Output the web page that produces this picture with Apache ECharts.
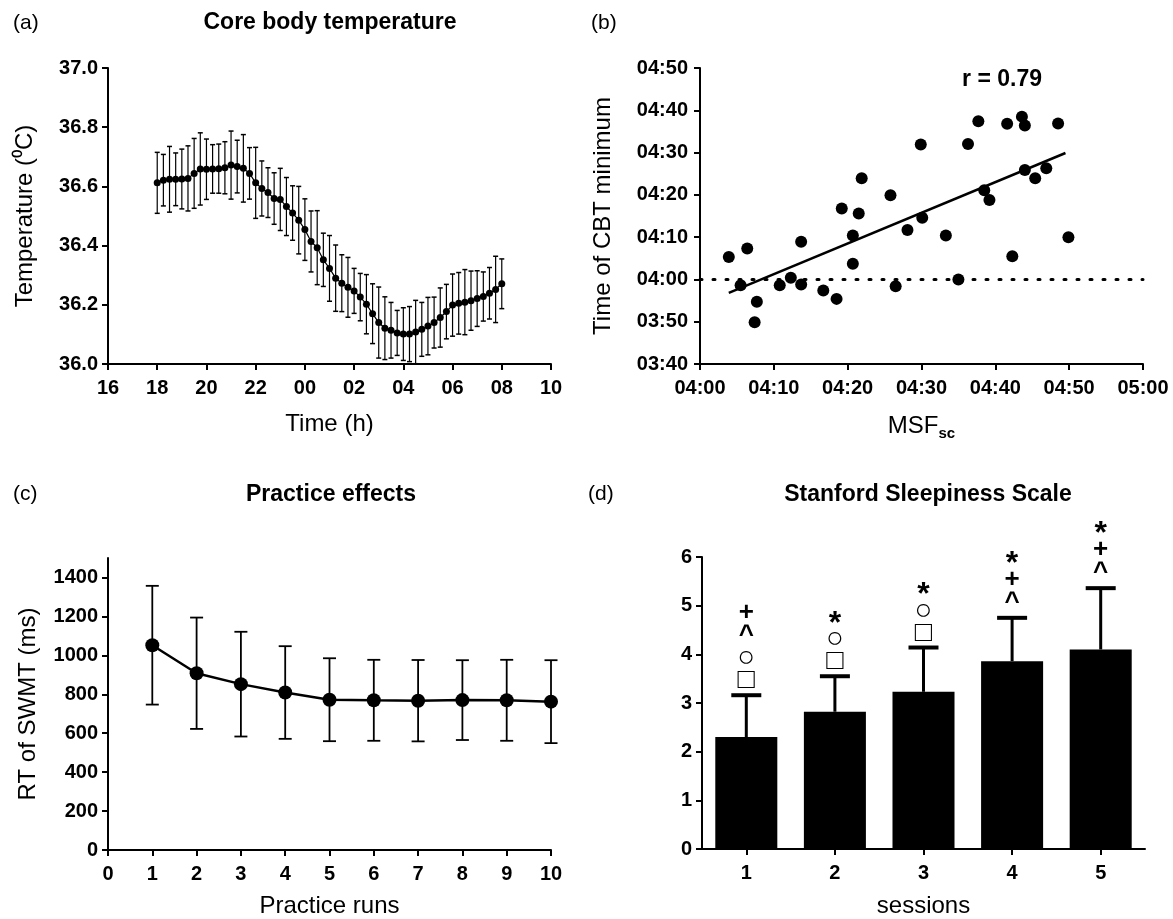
<!DOCTYPE html>
<html>
<head>
<meta charset="utf-8">
<title>CBT, chronotype, practice effects and sleepiness</title>
<script src="https://cdn.jsdelivr.net/npm/echarts@6/dist/echarts.min.js"></script>
<style>
  html, body { margin: 0; padding: 0; background: #fff; }
  #main { width: 1173px; height: 919px; }
</style>
</head>
<body>
<div id="main"></div>
<script>
// (a) core body temperature, 15 min bins (hours, values > 24 are next morning)
const cbtHours = [
  18, 18.25, 18.5, 18.75, 19, 19.25, 19.5, 19.75, 20, 20.25, 20.5, 20.75,
  21, 21.25, 21.5, 21.75, 22, 22.25, 22.5, 22.75, 23, 23.25, 23.5, 23.75,
  24, 24.25, 24.5, 24.75, 25, 25.25, 25.5, 25.75, 26, 26.25, 26.5, 26.75,
  27, 27.25, 27.5, 27.75, 28, 28.25, 28.5, 28.75, 29, 29.25, 29.5, 29.75,
  30, 30.25, 30.5, 30.75, 31, 31.25, 31.5, 31.75, 32
]
const cbtMean = [
  36.612, 36.621, 36.624, 36.624, 36.625, 36.627, 36.644, 36.659, 36.658, 36.659, 36.66, 36.663,
  36.672, 36.667, 36.661, 36.644, 36.612, 36.593, 36.579, 36.559, 36.556, 36.532, 36.51, 36.486,
  36.454, 36.414, 36.393, 36.352, 36.323, 36.29, 36.273, 36.259, 36.247, 36.226, 36.202, 36.17,
  36.14, 36.121, 36.114, 36.105, 36.101, 36.101, 36.108, 36.117, 36.128, 36.14, 36.157, 36.177,
  36.199, 36.205, 36.209, 36.214, 36.221, 36.228, 36.239, 36.252, 36.271
]
const cbtSem = [
  0.103, 0.087, 0.111, 0.089, 0.101, 0.11, 0.118, 0.122, 0.102, 0.082, 0.083, 0.088,
  0.115, 0.089, 0.114, 0.087, 0.12, 0.093, 0.084, 0.087, 0.105, 0.098, 0.092, 0.114,
  0.104, 0.103, 0.125, 0.09, 0.111, 0.112, 0.096, 0.101, 0.076, 0.08, 0.1, 0.101,
  0.12, 0.106, 0.094, 0.076, 0.089, 0.093, 0.107, 0.091, 0.097, 0.086, 0.1, 0.092,
  0.105, 0.104, 0.11, 0.1, 0.094, 0.083, 0.087, 0.112, 0.084
]
const timeTickLabels = ['16', '18', '20', '22', '00', '02', '04', '06', '08', '10']

// (b) MSFsc vs time of CBT minimum, minutes after 04:00
const msfMinutes = [
  3.9, 5.5, 6.4, 7.7, 7.4, 10.8, 12.3, 13.7, 13.7, 16.7, 18.5, 19.2,
  21.5, 20.7, 20.7, 21.9, 25.8, 26.5, 28.1, 29.9, 30.1, 33.3, 35.0, 36.3,
  37.7, 38.5, 39.2, 41.6, 42.3, 43.6, 44.0, 44.0, 45.4, 46.9, 48.5, 49.9
]
const cbtMinMinutes = [
  5.3, -1.4, 7.3, -5.3, -10.1, -1.4, 0.4, 8.9, -1.2, -2.6, -4.6, 16.8,
  15.6, 10.4, 3.7, 23.9, 19.9, -1.6, 11.7, 31.9, 14.6, 10.4, 0, 32.0,
  37.4, 21.1, 18.8, 36.8, 5.5, 38.5, 36.4, 25.9, 23.9, 26.3, 36.9, 10.0
]
const fitLine = [[3.9, -3.2], [49.5, 29.9]]
const clockTicksX = ['04:00', '04:10', '04:20', '04:30', '04:40', '04:50', '05:00']
const clockTicksY = ['03:40', '03:50', '04:00', '04:10', '04:20', '04:30', '04:40', '04:50']

// (c) practice effects
const runs = [1, 2, 3, 4, 5, 6, 7, 8, 9, 10]
const rtMean = [1052, 908, 852, 809, 772, 769, 767, 770, 769, 762]
const rtSd = [305, 286, 269, 238, 213, 208, 209, 205, 208, 213]
const rtTicks = [0, 200, 400, 600, 800, 1000, 1200, 1400]

// (d) Stanford Sleepiness Scale
const sessions = ['1', '2', '3', '4', '5']
const sssMean = [2.3, 2.82, 3.23, 3.86, 4.1]
const sssSd = [0.86, 0.73, 0.91, 0.89, 1.26]
const sssMarks = ['+\n^\n○\n□', '*\n○\n□', '*\n○\n□', '*\n+\n^', '*\n+\n^']

const FONT = 'Liberation Sans, Arial, sans-serif'

// rich styles for the significance glyphs
const markKey = { '+': 'plus', '^': 'caret', '○': 'circle', '□': 'square', '*': 'star' }
const markRich = {
  plus: { fontFamily: FONT, fontWeight: 'bold', fontSize: 26, lineHeight: 23, fill: '#000' },
  caret: { fontFamily: FONT, fontWeight: 'bold', fontSize: 26, lineHeight: 23, fill: '#000' },
  circle: { fontFamily: FONT, fontWeight: 'bold', fontSize: 29, lineHeight: 22, fill: '#000' },
  square: { fontFamily: FONT, fontWeight: 'bold', fontSize: 29, lineHeight: 22, fill: '#000' },
  star: { fontFamily: FONT, fontWeight: 'bold', fontSize: 32, lineHeight: 22, fill: '#000', padding: [14, 0, 0, 0] },
}

const chart = echarts.init(document.getElementById('main'))

/** common black axis look */
function axisStyle(extra) {
  return Object.assign({
    axisLine: { show: true, onZero: false, lineStyle: { color: '#000', width: 2 } },
    axisTick: { show: true, length: 6, lineStyle: { color: '#000', width: 2 } },
    axisLabel: { color: '#000', fontFamily: FONT, fontWeight: 'bold', fontSize: 20, margin: 14 },
    splitLine: { show: false },
    nameLocation: 'middle',
    nameTextStyle: { color: '#000', fontFamily: FONT, fontSize: 24 },
  }, extra)
}

/** error bar renderer: value(0)=x, value(1)=mean, value(2)=error */
function errorBar(capHalf, lineWidth, capWidth, upOnly, marks) {
  return function (params, api) {
    const x = api.value(0)
    const m = api.value(1)
    const e = api.value(2)
    const top = api.coord([x, m + e])
    const bot = api.coord([x, upOnly ? m : m - e])
    const children = [
      { type: 'line', shape: { x1: top[0], y1: top[1], x2: bot[0], y2: bot[1] }, style: { stroke: '#000', lineWidth } },
      { type: 'line', shape: { x1: top[0] - capHalf, y1: top[1], x2: top[0] + capHalf, y2: top[1] }, style: { stroke: '#000', lineWidth: capWidth } },
    ]
    if (!upOnly) {
      children.push({ type: 'line', shape: { x1: bot[0] - capHalf, y1: bot[1], x2: bot[0] + capHalf, y2: bot[1] }, style: { stroke: '#000', lineWidth: capWidth } })
    }
    if (marks) {
      // significance symbols stacked above the cap
      const text = marks[params.dataIndex].split('\n').map((c) => '{' + markKey[c] + '|' + c + '}').join('\n')
      children.push({
        type: 'text',
        x: top[0],
        y: top[1] - 4,
        style: {
          text,
          rich: markRich,
          align: 'center',
          verticalAlign: 'bottom',
          fontFamily: FONT,
          fontSize: 24,
          lineHeight: 22,
          fill: '#000',
        },
      })
    }
    return { type: 'group', children }
  }
}

function panelText(text, x, y, size, weight, align) {
  return {
    type: 'text',
    x,
    y,
    style: { text, fill: '#000', fontFamily: FONT, fontSize: size, fontWeight: weight, align: align || 'left', verticalAlign: 'middle' },
  }
}

const option = {
  animation: false,
  color: ['#000'],
  graphic: [
    panelText('(a)', 13, 23, 21, 'normal'),
    panelText('Core body temperature', 330, 23, 23, 'bold', 'center'),
    panelText('(b)', 591, 23, 21, 'normal'),
    panelText('r = 0.79', 1002, 80, 23, 'bold', 'center'),
    panelText('(c)', 13, 494, 21, 'normal'),
    panelText('Practice effects', 331, 495, 23, 'bold', 'center'),
    panelText('(d)', 588, 494, 21, 'normal'),
    panelText('Stanford Sleepiness Scale', 928, 495, 23, 'bold', 'center'),
  ],
  grid: [
    { left: 108, width: 443, top: 68, height: 296 },
    { left: 700, width: 443, top: 68, height: 296 },
    { left: 108, width: 443, top: 558, height: 295 },
    { left: 702, width: 443, top: 557, height: 296 },
  ],
  xAxis: [
    axisStyle({
      gridIndex: 0, type: 'value', min: 16, max: 34, interval: 2,
      name: 'Time (h)', nameGap: 48,
      axisLabel: { color: '#000', fontFamily: FONT, fontWeight: 'bold', fontSize: 20, margin: 14, formatter: (v) => timeTickLabels[Math.round((v - 16) / 2)] },
    }),
    axisStyle({
      gridIndex: 1, type: 'value', min: 0, max: 60, interval: 10,
      name: 'MSF{sub|sc}', nameGap: 48,
      nameTextStyle: { color: '#000', fontFamily: FONT, fontSize: 24, rich: { sub: { fontFamily: FONT, fontSize: 15, fontWeight: 'bold', color: '#000', verticalAlign: 'top', padding: [14, 0, 0, 0] } } },
      axisLabel: { color: '#000', fontFamily: FONT, fontWeight: 'bold', fontSize: 20, margin: 14, formatter: (v) => clockTicksX[Math.round(v / 10)] },
    }),
    axisStyle({
      gridIndex: 2, type: 'value', min: 0, max: 10, interval: 1,
      name: 'Practice runs', nameGap: 44,
    }),
    axisStyle({
      gridIndex: 3, type: 'category', data: sessions,
      name: 'sessions', nameGap: 45,
      axisTick: { show: true, alignWithLabel: true, length: 6, lineStyle: { color: '#000', width: 2 } },
    }),
  ],
  yAxis: [
    axisStyle({
      gridIndex: 0, type: 'value', min: 36, max: 37, interval: 0.2,
      name: 'Temperature (⁰C)', nameGap: 71,
      axisLabel: { color: '#000', fontFamily: FONT, fontWeight: 'bold', fontSize: 20, margin: 10, formatter: (v) => v.toFixed(1) },
    }),
    axisStyle({
      gridIndex: 1, type: 'value', min: -20, max: 50, interval: 10,
      name: 'Time of CBT minimum', nameGap: 85,
      axisLabel: { color: '#000', fontFamily: FONT, fontWeight: 'bold', fontSize: 20, margin: 12, formatter: (v) => clockTicksY[Math.round((v + 20) / 10)] },
    }),
    axisStyle({
      gridIndex: 2, type: 'value', min: 0, max: 1500, interval: 200,
      name: 'RT of SWMT (ms)', nameGap: 68,
      axisTick: { show: true, length: 6, customValues: rtTicks, lineStyle: { color: '#000', width: 2 } },
      axisLabel: { color: '#000', fontFamily: FONT, fontWeight: 'bold', fontSize: 20, margin: 10, customValues: rtTicks, formatter: (v) => String(v) },
    }),
    axisStyle({
      gridIndex: 3, type: 'value', min: 0, max: 6, interval: 1,
      axisLabel: { color: '#000', fontFamily: FONT, fontWeight: 'bold', fontSize: 20, margin: 10 },
    }),
  ],
  series: [
    {
      type: 'custom',
      xAxisIndex: 0,
      yAxisIndex: 0,
      clip: true,
      renderItem: errorBar(2.5, 1.2, 1.5, false),
      data: cbtHours.map((h, i) => [h, cbtMean[i], cbtSem[i]]),
      z: 2,
    },
    {
      type: 'line',
      xAxisIndex: 0,
      yAxisIndex: 0,
      symbol: 'circle',
      symbolSize: 7,
      lineStyle: { color: '#000', width: 1.2 },
      itemStyle: { color: '#000' },
      data: cbtHours.map((h, i) => [h, cbtMean[i]]),
      z: 3,
    },
    {
      type: 'scatter',
      xAxisIndex: 1,
      yAxisIndex: 1,
      symbolSize: 12,
      itemStyle: { color: '#000', opacity: 1 },
      data: msfMinutes.map((x, i) => [x, cbtMinMinutes[i]]),
      markLine: {
        silent: true,
        symbol: 'none',
        label: { show: false },
        lineStyle: { color: '#000', width: 3, type: [2, 11], cap: 'round' },
        data: [{ yAxis: 0 }],
      },
      z: 3,
    },
    {
      type: 'line',
      xAxisIndex: 1,
      yAxisIndex: 1,
      showSymbol: false,
      lineStyle: { color: '#000', width: 2.5 },
      data: fitLine,
      z: 2,
    },
    {
      type: 'custom',
      xAxisIndex: 2,
      yAxisIndex: 2,
      renderItem: errorBar(6.5, 1.8, 1.8, false),
      data: runs.map((r, i) => [r, rtMean[i], rtSd[i]]),
      z: 2,
    },
    {
      type: 'line',
      xAxisIndex: 2,
      yAxisIndex: 2,
      symbol: 'circle',
      symbolSize: 14,
      lineStyle: { color: '#000', width: 2.5 },
      itemStyle: { color: '#000' },
      data: runs.map((r, i) => [r, rtMean[i]]),
      z: 3,
    },
    {
      type: 'bar',
      xAxisIndex: 3,
      yAxisIndex: 3,
      barWidth: '70%',
      itemStyle: { color: '#000' },
      data: sssMean,
      z: 2,
    },
    {
      type: 'custom',
      xAxisIndex: 3,
      yAxisIndex: 3,
      renderItem: errorBar(15, 3, 4, true, sssMarks),
      data: sssMean.map((m, i) => [i, m, sssSd[i]]),
      z: 3,
    },
  ],
}

chart.setOption(option)
</script>
</body>
</html>
